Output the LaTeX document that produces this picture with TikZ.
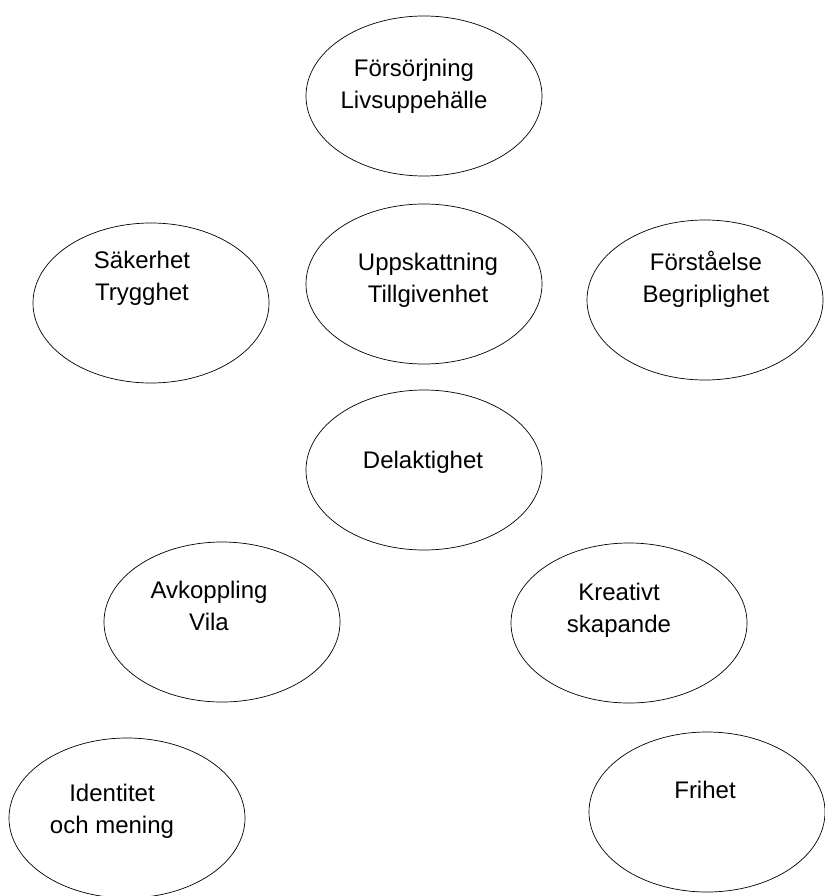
\documentclass[tikz,border=0pt]{standalone}
\usepackage{fontspec}
\setmainfont{Liberation Sans}
\usetikzlibrary{shapes.geometric}
\begin{document}
\begin{tikzpicture}[x=1pt,y=-1pt,
    bubble/.style={draw,ellipse,line width=0.7pt,inner sep=0pt,
      minimum width=236,minimum height=160},
    txt/.style={align=center,inner sep=0pt,anchor=base,
      font=\fontsize{24}{32}\selectfont}]
  \useasboundingbox (0,0) rectangle (824,896);
  % ellipses
  \node[bubble] (forsorjning) at (424,96) {};
  \node[bubble] (sakerhet) at (151,303) {};
  \node[bubble] (uppskattning) at (424,284) {};
  \node[bubble] (forstaelse) at (705,300) {};
  \node[bubble] (delaktighet) at (424,470) {};
  \node[bubble] (avkoppling) at (222,622) {};
  \node[bubble] (kreativt) at (629,623) {};
  \node[bubble] (identitet) at (127,818) {};
  \node[bubble] (frihet) at (707,812) {};
  % texts (base = last line)
  \node[txt] (t-forsorjning) at (414,109) {Försörjning\\Livsuppehälle};
  \node[txt] (t-sakerhet) at (142,300) {Säkerhet\\Trygghet};
  \node[txt] (t-uppskattning) at (428,302) {Uppskattning\\Tillgivenhet};
  \node[txt] (t-forstaelse) at (706,302) {Förståelse\\Begriplighet};
  \node[txt] (t-delaktighet) at (423,468) {Delaktighet};
  \node[txt] (t-avkoppling) at (209,630) {Avkoppling\\Vila};
  \node[txt] (t-kreativt) at (619,632) {Kreativt\\skapande};
  \node[txt] (t-identitet) at (112,833) {Identitet\\och mening};
  \node[txt] (t-frihet) at (705,798) {Frihet};
\end{tikzpicture}
\end{document}
